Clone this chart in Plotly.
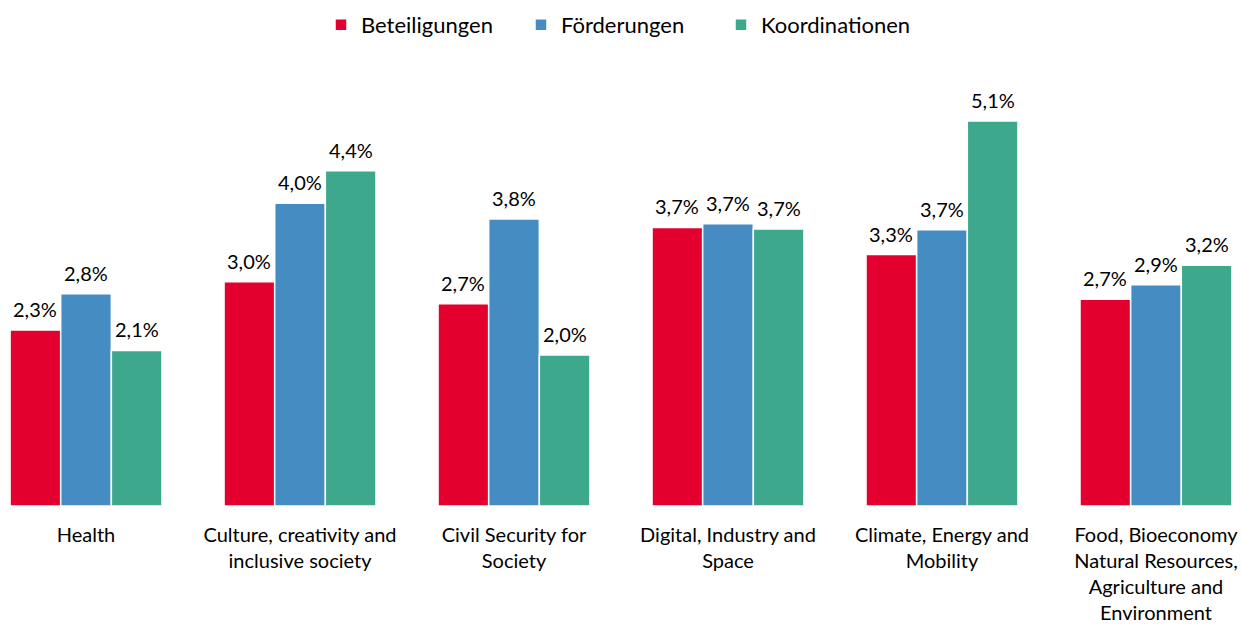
import plotly.graph_objects as go

categories = [
    "Health",
    "Culture, creativity and<br>inclusive society",
    "Civil Security for<br>Society",
    "Digital, Industry and<br>Space",
    "Climate, Energy and<br>Mobility",
    "Food, Bioeconomy<br>Natural Resources,<br>Agriculture and<br>Environment",
]

# shares in percent
beteiligungen = [2.33, 2.97, 2.68, 3.69, 3.33, 2.74]
foerderungen = [2.81, 4.01, 3.80, 3.74, 3.66, 2.93]
koordinationen = [2.06, 4.44, 2.00, 3.67, 5.10, 3.19]

series = [
    ("Beteiligungen", beteiligungen, "#E3002F"),
    ("Förderungen", foerderungen, "#458CC3"),
    ("Koordinationen", koordinationen, "#3DA88C"),
]

fig = go.Figure()
for name, vals, col in series:
    fig.add_trace(go.Bar(
        name=name,
        x=categories,
        y=vals,
        marker=dict(color=col, line=dict(color="white", width=1.5)),
        hovertemplate="%{y:.1f}%<extra>" + name + "</extra>",
    ))

# value labels above the bars
bargap = 0.29
bar_px = (1 - bargap) / 3 * 214
for k, (name, vals, col) in enumerate(series):
    for cat, v in zip(categories, vals):
        fig.add_annotation(
            x=cat, y=v, xref="x", yref="y",
            text=f"{v:.1f}%".replace(".", ","),
            showarrow=False, yanchor="bottom",
            xshift=(k - 1) * bar_px, yshift=7,
            font=dict(size=20, color="black"),
        )

fig.update_layout(
    width=1242, height=624,
    barmode="group", bargap=bargap, bargroupgap=0,
    separators=",.",
    font=dict(family="Lato, 'Open Sans', sans-serif", size=20, color="black"),
    paper_bgcolor="white", plot_bgcolor="white",
    margin=dict(l=0, r=0, t=53, b=118),
    showlegend=True,
    legend=dict(
        orientation="h", x=0.5, xanchor="center",
        yref="container", y=1 - 25 / 624, yanchor="middle",
        font=dict(size=22), itemwidth=30,
        entrywidth=155, entrywidthmode="pixels",
    ),
    xaxis=dict(
        range=[-0.402, 5.402], showgrid=False, zeroline=False,
        showline=False, ticks="", tickfont=dict(size=20),
        ticklabelstandoff=15,
    ),
    yaxis=dict(range=[0, 6], visible=False),
)

fig.write_html("out.html", config={"displayModeBar": False},
               post_script="document.body.style.margin='0px';")
